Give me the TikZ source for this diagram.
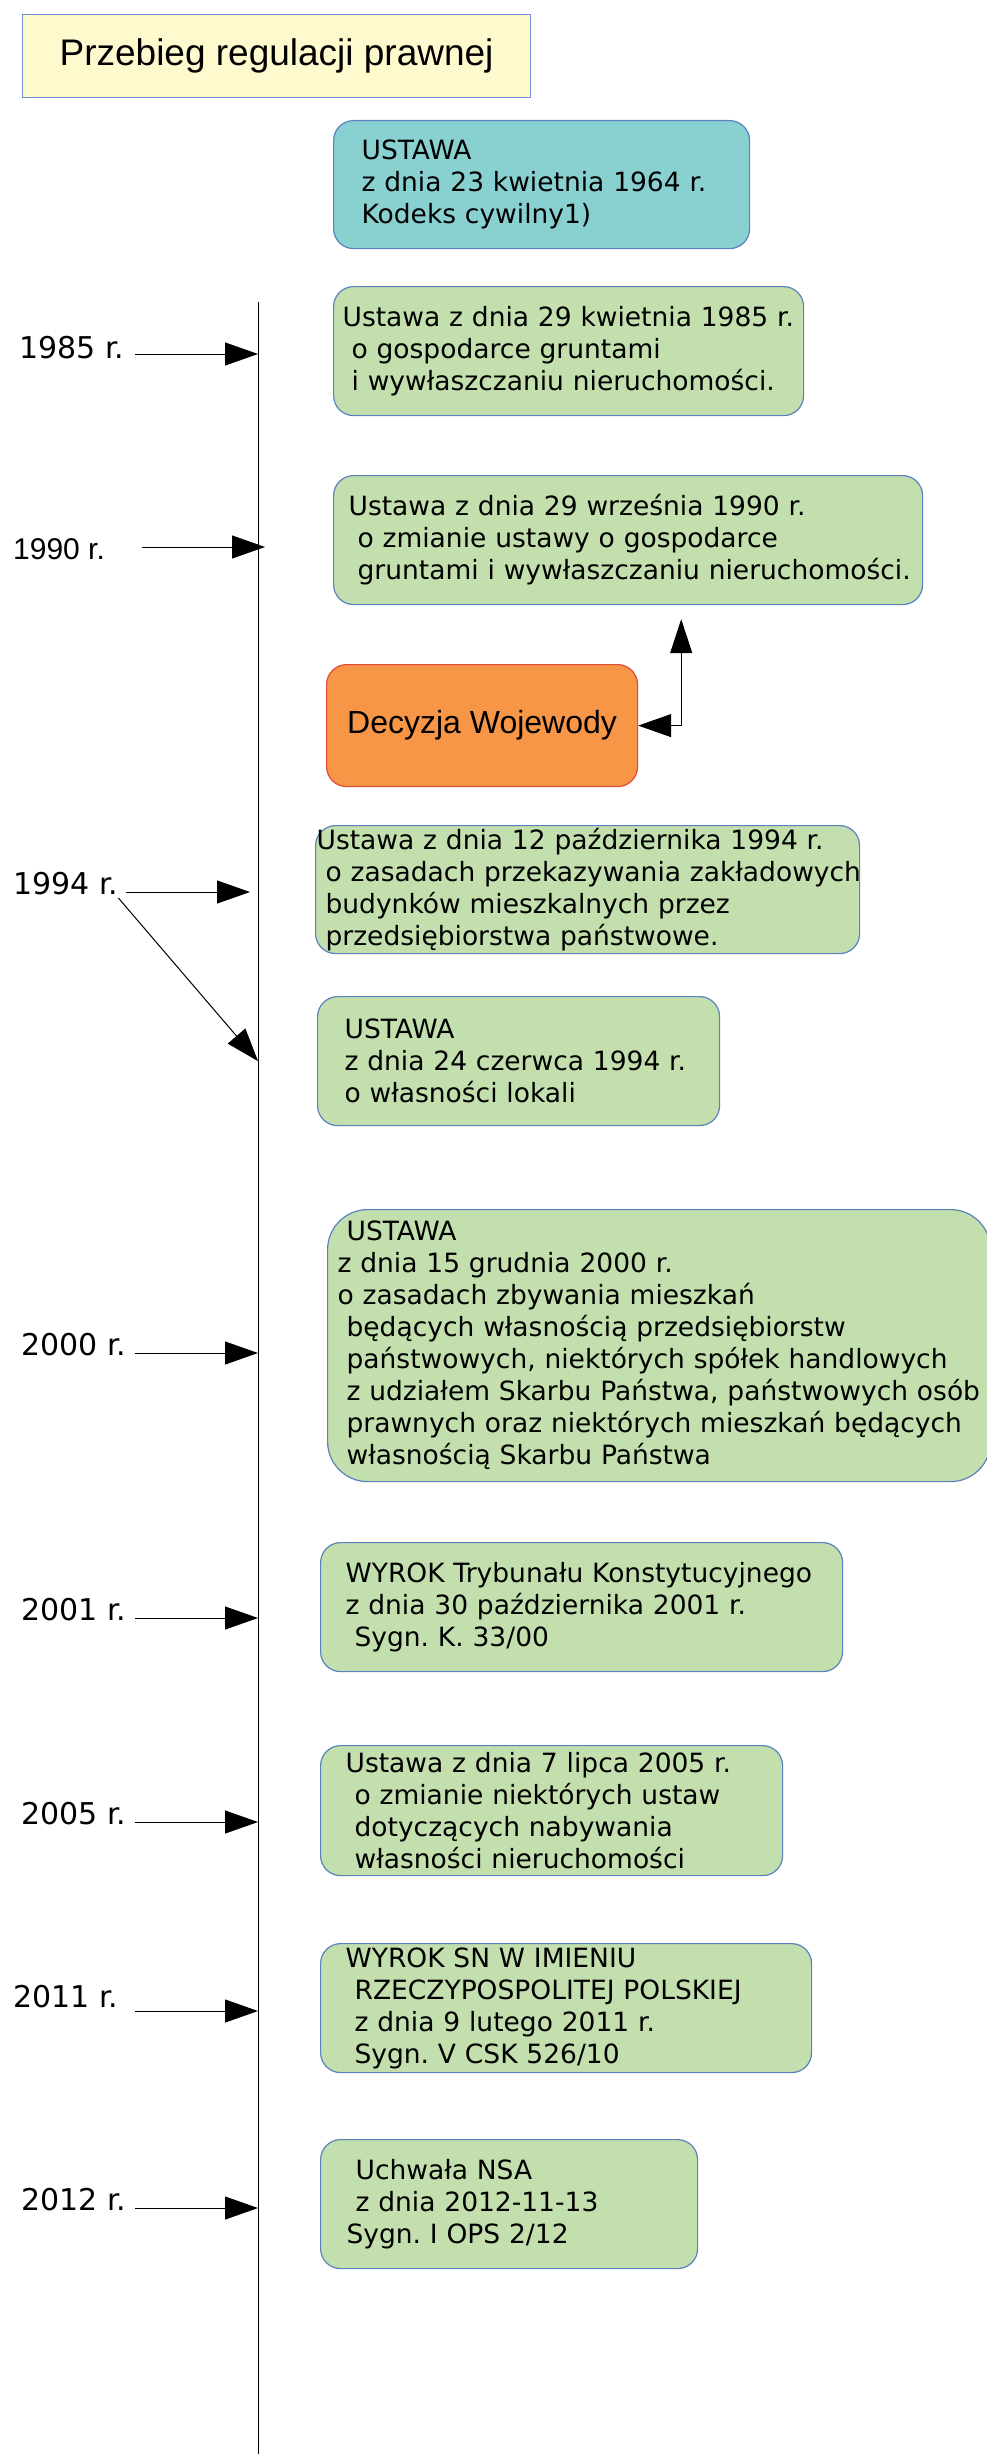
\documentclass[tikz,border=0pt]{standalone}
\usepackage{fontspec}
\setmainfont{DejaVu Sans}
\newfontfamily\arialfont{Liberation Sans}
\usetikzlibrary{arrows.meta}
\frenchspacing
\definecolor{titlefill}{RGB}{255,250,205}
\definecolor{titleline}{RGB}{110,145,200}
\definecolor{tealfill}{RGB}{137,208,208}
\definecolor{lawfill}{RGB}{196,223,174}
\definecolor{boxline}{RGB}{90,130,190}
\definecolor{decfill}{RGB}{247,150,70}
\definecolor{decline}{RGB}{225,75,60}
\newcommand{\lawfont}{\fontsize{26.5}{32}\selectfont}
\newcommand{\yearfont}{\fontsize{30}{36}\selectfont}
\newcommand{\ind}{\hspace*{9pt}}
% left padding of the text inside a box, long lines may stick out
\newcommand{\padtext}[2]{\parindent=0pt\leftskip=#1\rightskip=-40pt plus 1fil #2\par}
\tikzset{%
  lawbox/.style   = {shape=rectangle, rounded corners=20pt,%
                     draw=boxline, line width=1.2pt, fill=lawfill,%
                     align=left, inner sep=0pt, anchor=north west,%
                     font=\lawfont},%
  firstlaw/.style = {lawbox, fill=tealfill},%
  decision/.style = {lawbox, fill=decfill, draw=decline, align=center,%
                     font=\arialfont\fontsize{32}{38}\selectfont},%
  titlebox/.style = {shape=rectangle, draw=titleline, line width=1.2pt,%
                     fill=titlefill, anchor=north west, inner sep=0pt,%
                     font=\arialfont\fontsize{37}{44}\selectfont},%
  year/.style     = {anchor=base west, inner sep=0pt, font=\yearfont},%
  timeline/.style = {draw=black, line width=1pt},%
  yeararrow/.style= {draw=black, line width=1pt,%
                     -{Triangle[length=33pt,width=23pt]}},%
  twoway/.style   = {draw=black, line width=1pt,%
                     {Triangle[length=33pt,width=23pt]}-{Triangle[length=34pt,width=22pt]}}%
}

\begin{document}
\begin{tikzpicture}[x=1pt,y=-1pt]
	\useasboundingbox (0,0) rectangle (987,2454);
	\fill[white] (0,0) rectangle (987,2454);
	% title
	\node[titlebox, minimum width=508pt, minimum height=83pt] (title) at (22,14)
		{Przebieg regulacji prawnej};
	% timeline
	\coordinate (tlTop) at (258,302);
	\coordinate (tlBot) at (258,2454);
	\draw[timeline] (tlTop) -- (tlBot);
	% boxes
	\node[firstlaw, text width=416pt, minimum height=128pt] (b64) at (333,120)
		{\padtext{28pt}{USTAWA\\ z dnia 23 kwietnia 1964 r.\\ Kodeks cywilny1)}};
	\node[lawbox, text width=470pt, minimum height=129pt] (b85) at (333,286)
		{\padtext{9pt}{Ustawa z dnia 29 kwietnia 1985 r.\\ \ind o gospodarce gruntami\\ \ind i wywłaszczaniu nieruchomości.}};
	\node[lawbox, text width=589pt, minimum height=129pt] (b90) at (333,475)
		{\padtext{15pt}{Ustawa z dnia 29 września 1990 r.\\ \ind o zmianie ustawy o gospodarce\\ \ind gruntami i wywłaszczaniu nieruchomości.}};
	\node[decision, minimum width=311pt, minimum height=122pt] (dec) at (326,664)
		{Decyzja Wojewody};
	\node[lawbox, text width=544pt, minimum height=128pt] (b94a) at (315,825)
		{\padtext{1pt}{Ustawa z dnia 12 października 1994 r.\\ \ind o zasadach przekazywania zakładowych\\ \ind budynków mieszkalnych przez\\ \ind przedsiębiorstwa państwowe.}};
	\node[lawbox, text width=402pt, minimum height=129pt] (b94b) at (317,996)
		{\padtext{27pt}{USTAWA\\ z dnia 24 czerwca 1994 r.\\ o własności lokali}};
	\node[lawbox, rounded corners=40pt, text width=663pt, minimum height=272pt] (b00) at (327,1209)
		{\padtext{10pt}{\ind USTAWA\\ z dnia 15 grudnia 2000 r.\\ o zasadach zbywania mieszkań\\ \ind będących własnością przedsiębiorstw\\ \ind państwowych, niektórych spółek handlowych\\ \ind z udziałem Skarbu Państwa, państwowych osób\\ \ind prawnych oraz niektórych mieszkań będących\\ \ind własnością Skarbu Państwa}};
	\node[lawbox, text width=522pt, minimum height=129pt] (b01) at (320,1542)
		{\padtext{25pt}{WYROK Trybunału Konstytucyjnego\\ z dnia 30 października 2001 r.\\ \ind Sygn. K. 33/00}};
	\node[lawbox, text width=462pt, minimum height=130pt] (b05) at (320,1745)
		{\padtext{25pt}{Ustawa z dnia 7 lipca 2005 r.\\ \ind o zmianie niektórych ustaw\\ \ind dotyczących nabywania\\ \ind własności nieruchomości}};
	\node[lawbox, text width=491pt, minimum height=129pt] (b11) at (320,1943)
		{\padtext{25pt}{WYROK SN W IMIENIU\\ \ind RZECZYPOSPOLITEJ POLSKIEJ\\ \ind z dnia 9 lutego 2011 r.\\ \ind Sygn. V CSK 526/10}};
	\node[lawbox, text width=377pt, minimum height=129pt] (b12) at (320,2139)
		{\padtext{26pt}{\ind Uchwała NSA\\ \ind z dnia 2012-11-13\\ Sygn. I OPS 2/12}};
	% years
	\node[year] (y85) at (19,358) {1985 r.};
	\node[year, font=\arialfont\yearfont] (y90) at (13,559) {1990 r.};
	\node[year] (y94) at (13,894) {1994 r.};
	\node[year] (y00) at (21,1355) {2000 r.};
	\node[year] (y01) at (21,1620) {2001 r.};
	\node[year] (y05) at (21,1824) {2005 r.};
	\node[year] (y11) at (13,2007) {2011 r.};
	\node[year] (y12) at (21,2210) {2012 r.};
	% arrows
	\draw[yeararrow] ([xshift=11pt,yshift=4pt]y85.base east) coordinate (a85) -- (a85 -| tlTop);
	\draw[yeararrow, shorten >=-7pt] ([xshift=37pt,yshift=12pt]y90.base east) coordinate (a90) -- (a90 -| tlTop);
	\draw[yeararrow, shorten >=8pt] ([xshift=8pt,yshift=2pt]y94.base east) coordinate (a94) -- (a94 -| tlTop);
	\draw[yeararrow] ([yshift=-4pt]y94.base east) -- (b94b.west -| tlTop);
	\draw[yeararrow] ([xshift=9pt,yshift=2pt]y00.base east) coordinate (a00) -- (a00 -| tlTop);
	\draw[yeararrow] ([xshift=9pt,yshift=2pt]y01.base east) coordinate (a01) -- (a01 -| tlTop);
	\draw[yeararrow] ([xshift=9pt,yshift=2pt]y05.base east) coordinate (a05) -- (a05 -| tlTop);
	\draw[yeararrow] ([xshift=17pt,yshift=-4pt]y11.base east) coordinate (a11) -- (a11 -| tlTop);
	\draw[yeararrow] ([xshift=9pt,yshift=2pt]y12.base east) coordinate (a12) -- (a12 -| tlTop);
	% decision link
	\draw[twoway, shorten >=14pt] (dec.east) -- ++(43,0) coordinate (elb) -- (elb |- b90.south);
\end{tikzpicture}
\end{document}
